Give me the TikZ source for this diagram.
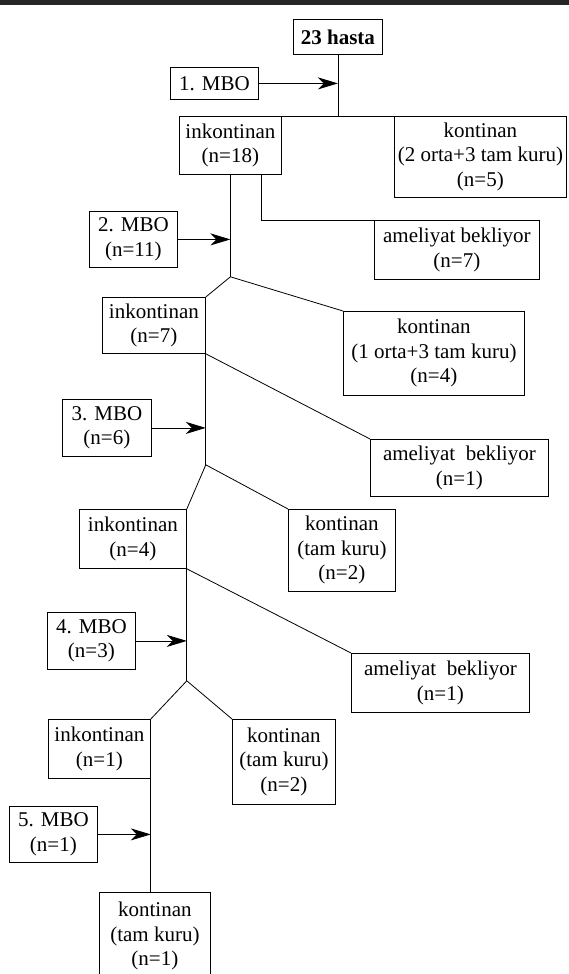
\documentclass[tikz,border=0pt]{standalone}
\usepackage{fontspec}
\setmainfont{Liberation Serif}
\usetikzlibrary{arrows.meta,calc}

\begin{document}
\begin{tikzpicture}[x=1pt,y=-1pt,line width=0.8pt,
        kutu/.style 2 args={draw, minimum width=#1, minimum height=#2, inner sep=0pt, anchor=north west, align=center},
        ok/.style={-{Stealth[length=20pt,width=12pt,inset=6pt]}},
        font=\fontsize{21}{24.5}\selectfont]
        \useasboundingbox (0,0) rectangle (569,974);
        \clip (0,0) rectangle (569,974);
        \fill[black!85] (0,0) rectangle (569,5);

        % Start
        \node[kutu={89pt}{35pt}] (hasta) at (293,19) {\textbf{23 hasta}};
        \node[kutu={88pt}{32pt}] (mbo1) at (170,67) {1. MBO};
        \node[kutu={102pt}{58pt}] (ink1) at (179,116) {inkontinan\\(n=18)};
        \node[kutu={172pt}{81pt}] (kon1) at (394,116) {kontinan\\(2 orta+3 tam kuru)\\(n=5)};
        \node[kutu={165pt}{59pt}] (bek1) at (374,220) {ameliyat bekliyor\\(n=7)};

        % Second round
        \node[kutu={88pt}{56pt}] (mbo2) at (89,211) {2. MBO\\(n=11)};
        \node[kutu={103pt}{56pt}] (ink2) at (102,297) {inkontinan\\(n=7)};
        \node[kutu={181pt}{84pt}] (kon2) at (343,311) {kontinan\\(1 orta+3 tam kuru)\\(n=4)};
        \node[kutu={89pt}{57pt}] (mbo3) at (62,399) {3. MBO\\(n=6)};
        \node[kutu={178pt}{57pt}] (bek2) at (370,439) {ameliyat~~bekliyor\\(n=1)};

        % Third round
        \node[kutu={107pt}{59pt}] (ink3) at (79,509) {inkontinan\\(n=4)};
        \node[kutu={107pt}{82pt}] (kon3) at (288,509) {kontinan\\(tam kuru)\\(n=2)};
        \node[kutu={88pt}{57pt}] (mbo4) at (47,612) {4. MBO\\(n=3)};
        \node[kutu={178pt}{59pt}] (bek3) at (351,653) {ameliyat~~bekliyor\\(n=1)};

        % Last rounds
        \node[kutu={102pt}{59pt}] (ink4) at (48,719) {inkontinan\\(n=1)};
        \node[kutu={103pt}{85pt}] (kon4) at (232,719) {kontinan\\(tam kuru)\\(n=2)};
        \node[kutu={88pt}{56pt}] (mbo5) at (9,806) {5. MBO\\(n=1)};
        \node[kutu={111pt}{88pt}] (kon5) at (99,892) {kontinan\\(tam kuru)\\(n=1)};

        % Junctions
        \coordinate (j2) at ($(ink1.south)+(0,102)$);
        \coordinate (j3) at ($(ink2.south east)+(0,111)$);
        \coordinate (j4) at ($(ink3.south east)+(0,112)$);

        % Lines
        \draw (ink1.north east) -- (kon1.north west);
        \draw (hasta) -- (hasta |- ink1.north);
        \draw[ok] (mbo1) -- (mbo1 -| hasta);

        \draw (ink1.south) -- (j2);
        \draw ([xshift=-20.5pt]ink1.south east) |- (bek1.north west);
        \draw[ok] (mbo2) -- (mbo2 -| j2);
        \draw (j2) -- (ink2.north east);
        \draw (j2) -- (kon2.north west);

        \draw (ink2.south east) -- (j3);
        \draw (ink2.south east) -- (bek2.north west);
        \draw[ok] (mbo3) -- (mbo3 -| j3);
        \draw (j3) -- (ink3.north east);
        \draw (j3) -- (kon3.north west);

        \draw (ink3.south east) -- (j4);
        \draw (ink3.south east) -- (bek3.north west);
        \draw[ok] (mbo4) -- (mbo4 -| j4);
        \draw (j4) -- (ink4.north east);
        \draw (j4) -- (kon4.north west);

        \draw (ink4.south east) -- (ink4.south east |- kon5.north);
        \draw[ok] (mbo5) -- (mbo5 -| ink4.south east);
    \end{tikzpicture}
\end{document}
